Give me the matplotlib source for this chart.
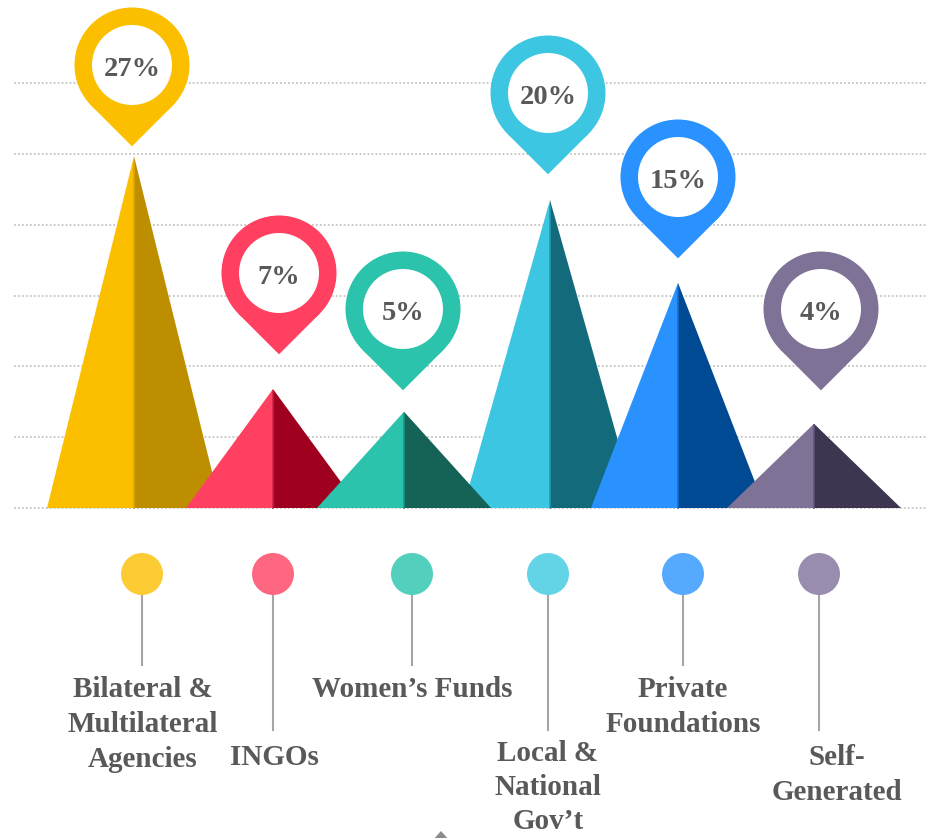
import matplotlib
matplotlib.use("Agg")
import matplotlib.pyplot as plt
from matplotlib.patches import Polygon, Circle
import matplotlib.colors as mcolors
import numpy as np

# ---------------- data ----------------
categories = ["Bilateral &\nMultilateral\nAgencies", "INGOs", "Women\u2019s Funds",
              "Local &\nNational\nGov\u2019t", "Private\nFoundations", "Self-\nGenerated"]
shares = [27, 7, 5, 20, 15, 4]                       # percent shown in the pins
peak_heights = [4.97, 1.68, 1.36, 4.35, 3.18, 1.19]  # triangle heights (grid units)

# ---------------- style / layout ----------------
light = ["#FBBF00", "#FF4060", "#2BC3AC", "#3CC6E2", "#2A92FF", "#7F7297"]
dark = ["#BD8F00", "#A0001F", "#146356", "#136A7B", "#004A93", "#3E3650"]
dot_col = ["#FDCB33", "#FF6680", "#52CFBD", "#62D4E6", "#55AAFF", "#988DAE"]
stack = [1, 2, 4, 3, 5, 6]
TXT = "#595959"
FONT = "Liberation Serif"

W, H = 928, 838
G = 70.8          # pixels per grid unit
BASE = 508        # baseline pixel row

def X(px):
    return px / G

def Y(py):
    return (BASE - py) / G

peak_x = [134, 273, 404, 550, 678, 814]
half_w = 87
pin_xy = [(132, 65), (279, 273), (403, 309), (548, 93), (678, 177), (821, 309)]
pin_R, pin_r = 57.5, 40
dot_x = [142, 273, 412, 548, 683, 819]
dot_y, dot_r = 574, 21
stem_end = [665, 730, 665, 730, 665, 730]
label_x = [143, 274, 412, 548, 683, 837]
label_top = [676, 744, 676, 740, 676, 744]
label_ls = [1.38, 1.38, 1.38, 1.34, 1.38, 1.38]

fig = plt.figure(figsize=(W / 100, H / 100), dpi=100)
ax = fig.add_axes([0, 0, 1, 1])
ax.set_xlim(0, W / G)
ax.set_ylim(-(H - BASE) / G, BASE / G)
ax.axis("off")

# dotted gridlines
for k in range(0, 7):
    ax.plot([X(14), X(W)], [k, k], color="#C4C4C4", lw=1.3,
            linestyle=(0, (1, 1.2)), zorder=1, solid_capstyle="butt")

hw = half_w / G
for i in range(len(categories)):
    xc = X(peak_x[i])
    h = peak_heights[i]
    z = 2 + stack[i] * 0.1
    ax.add_patch(Polygon([(xc - hw, 0), (xc, h), (xc, 0)], closed=True,
                         facecolor=light[i], edgecolor="none", zorder=z))
    ax.add_patch(Polygon([(xc, 0), (xc, h), (xc + hw, 0)], closed=True,
                         facecolor=dark[i], edgecolor="none", zorder=z))
    mid = (np.array(mcolors.to_rgb(light[i])) + np.array(mcolors.to_rgb(dark[i]))) / 2
    ax.plot([xc, xc], [0, h * 0.98], color=mid, lw=1.2, zorder=z + 0.01)

    # pin
    cx, cy = X(pin_xy[i][0]), Y(pin_xy[i][1])
    R, r = pin_R / G, pin_r / G
    c45 = np.cos(np.pi / 4)
    ax.add_patch(Circle((cx, cy), R, facecolor=light[i], edgecolor="none", zorder=5))
    ax.add_patch(Polygon([(cx - R * c45, cy - R * c45), (cx, cy),
                          (cx + R * c45, cy - R * c45), (cx, cy - R * np.sqrt(2))],
                         closed=True, facecolor=light[i], edgecolor="none", zorder=5))
    ax.add_patch(Circle((cx, cy), r, facecolor="white", edgecolor="none", zorder=6))
    ax.text(cx, cy - 4 / G, f"{shares[i]}%", ha="center", va="center", fontsize=20.5,
            fontweight="bold", family=FONT, color=TXT, zorder=7)

    # dot + stem + label
    ax.plot([X(dot_x[i]), X(dot_x[i])], [Y(dot_y), Y(stem_end[i])],
            color="#A6A6A6", lw=1.5, zorder=3)
    ax.add_patch(Circle((X(dot_x[i]), Y(dot_y)), dot_r / G, facecolor=dot_col[i],
                        edgecolor="none", zorder=4))
    ax.text(X(label_x[i]), Y(label_top[i]), categories[i], ha="center", va="top",
            fontsize=21, fontweight="bold", family=FONT, color=TXT,
            linespacing=label_ls[i], zorder=4)

# small grey marker at the bottom edge
ax.add_patch(Polygon([(X(432), Y(841)), (X(441), Y(831)), (X(450), Y(841))],
                     closed=True, facecolor="#8C8C8C", edgecolor="none", zorder=2))

fig.savefig("out.png", dpi=100, facecolor="white")
